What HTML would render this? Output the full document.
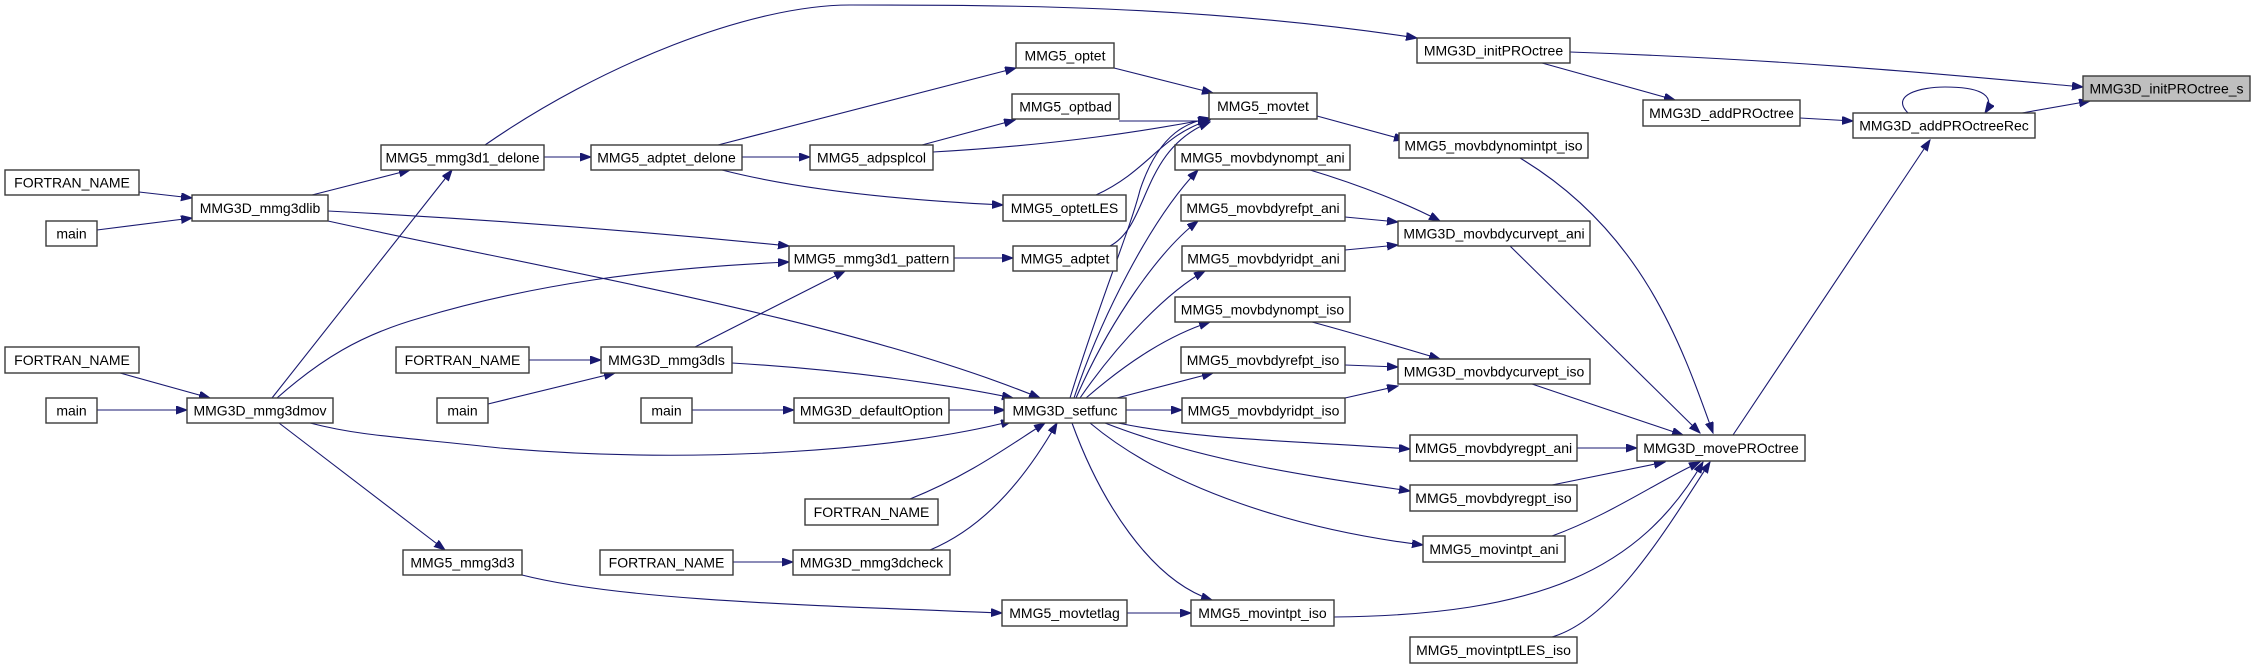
<!DOCTYPE html>
<html><head><meta charset="utf-8">
<style>
html,body{margin:0;padding:0;background:#fff;}
svg{display:block;}
text{font-family:"Liberation Sans",sans-serif;font-size:14px;fill:#000;}
.b{fill:#fff;stroke:#3a3a3a;stroke-width:1.4;}
.e{fill:none;stroke:#191970;stroke-width:1.1;}
</style></head><body>
<svg width="2255" height="669" viewBox="0 0 2255 669" xmlns="http://www.w3.org/2000/svg">
<defs>
<marker id="a" markerWidth="12" markerHeight="9" refX="11" refY="4" orient="auto" markerUnits="userSpaceOnUse">
<path d="M0,0 L11,4 L0,8 z" fill="#191970" stroke="#191970"/>
</marker>
</defs>
<g class="e" marker-end="url(#a)">
<path d="M1570,52 C1800,60 1950,75 2083,87"/>
<path d="M1542,63 L1675,100"/>
<path d="M1800,118 L1853,121"/>
<path d="M2022,113 L2090,101"/>
<path d="M1908,113 C1890,95 1920,87 1945,87 C1975,87 1998,93 1985,113"/>
<path d="M1733,435 L1930,140"/>
<path d="M1520,158 C1640,230 1680,340 1713,433"/>
<path d="M1510,246 L1700,433"/>
<path d="M1532,384 L1683,435"/>
<path d="M1577,448 L1637,448"/>
<path d="M1552,485 L1665,462"/>
<path d="M1552,536 C1610,515 1660,480 1700,462"/>
<path d="M1334,617 C1540,615 1640,570 1703,462"/>
<path d="M1552,637 C1610,620 1660,540 1710,462"/>
<path d="M1317,116 L1405,140"/>
<path d="M1310,170 C1360,185 1410,205 1440,221"/>
<path d="M1345,217 L1398,222"/>
<path d="M1345,250 L1398,245"/>
<path d="M1312,322 C1360,335 1410,350 1440,359"/>
<path d="M1345,365 L1398,367"/>
<path d="M1345,398 L1398,386"/>
<path d="M1074,398 C1100,320 1150,220 1198,170"/>
<path d="M1076,398 C1110,320 1160,250 1198,221"/>
<path d="M1080,398 C1120,340 1170,290 1205,271"/>
<path d="M1086,398 C1130,360 1170,335 1210,322"/>
<path d="M1117,398 L1213,373"/>
<path d="M1126,410 L1182,410"/>
<path d="M1118,423 C1200,440 1300,441 1410,449"/>
<path d="M1105,423 C1200,460 1300,475 1410,491"/>
<path d="M1090,423 C1170,490 1300,530 1423,545"/>
<path d="M1072,423 C1100,500 1150,580 1212,600"/>
<path d="M1070,398 C1100,300 1130,230 1140,190 C1160,130 1190,122 1210,118"/>
<path d="M1096,195 C1150,170 1160,135 1210,120"/>
<path d="M1110,246 C1150,225 1140,150 1210,122"/>
<path d="M1114,68 L1213,93"/>
<path d="M1119,121 L1209,121"/>
<path d="M933,152 C1060,145 1150,130 1209,119"/>
<path d="M922,145 L1015,120"/>
<path d="M718,145 L1016,68"/>
<path d="M742,157 L810,157"/>
<path d="M722,170 C800,190 900,200 1003,205"/>
<path d="M954,258 L1013,258"/>
<path d="M544,157 L591,157"/>
<path d="M485,145 C600,65 750,5 850,5 C1000,5 1200,5 1417,38"/>
<path d="M312,195 L410,170"/>
<path d="M328,211 C500,220 650,232 789,246"/>
<path d="M328,221 C550,270 850,320 1040,398"/>
<path d="M139,192 L192,198"/>
<path d="M97,230 L192,218"/>
<path d="M120,373 L210,398"/>
<path d="M97,410 L187,410"/>
<path d="M272,398 L452,170"/>
<path d="M277,398 C320,360 360,335 420,318 C530,285 650,268 789,262"/>
<path d="M695,347 L845,271"/>
<path d="M310,423 C360,436 400,437 500,448 C700,465 900,450 1012,421"/>
<path d="M279,423 L445,550"/>
<path d="M529,360 L601,360"/>
<path d="M488,404 L615,373"/>
<path d="M732,363 C850,370 950,385 1013,398"/>
<path d="M692,410 L794,410"/>
<path d="M949,410 L1005,410"/>
<path d="M910,499 C970,475 1010,445 1045,423"/>
<path d="M733,562 L793,562"/>
<path d="M930,550 C990,525 1030,470 1057,423"/>
<path d="M522,575 C620,600 800,605 1002,613"/>
<path d="M1127,613 L1191,613"/>
</g>
<g>
<rect class="b" x="1417" y="38" width="153" height="25"/><text x="1493.5" y="55.5" text-anchor="middle">MMG3D_initPROctree</text>
<rect x="2083" y="76" width="167" height="25" fill="#bfbfbf" stroke="#3a3a3a" stroke-width="1.4"/><text x="2166.5" y="93.5" text-anchor="middle">MMG3D_initPROctree_s</text>
<rect class="b" x="1643" y="100" width="157" height="26"/><text x="1721.5" y="118" text-anchor="middle">MMG3D_addPROctree</text>
<rect class="b" x="1853" y="113" width="182" height="25"/><text x="1944" y="130.5" text-anchor="middle">MMG3D_addPROctreeRec</text>
<rect class="b" x="1637" y="435" width="168" height="26"/><text x="1721" y="453" text-anchor="middle">MMG3D_movePROctree</text>
<rect class="b" x="1399" y="133" width="189" height="25"/><text x="1493.5" y="150.5" text-anchor="middle">MMG5_movbdynomintpt_iso</text>
<rect class="b" x="1398" y="221" width="192" height="25"/><text x="1494" y="238.5" text-anchor="middle">MMG3D_movbdycurvept_ani</text>
<rect class="b" x="1398" y="359" width="192" height="25"/><text x="1494" y="376.5" text-anchor="middle">MMG3D_movbdycurvept_iso</text>
<rect class="b" x="1410" y="435" width="167" height="26"/><text x="1493.5" y="453" text-anchor="middle">MMG5_movbdyregpt_ani</text>
<rect class="b" x="1410" y="485" width="167" height="26"/><text x="1493.5" y="503" text-anchor="middle">MMG5_movbdyregpt_iso</text>
<rect class="b" x="1423" y="536" width="142" height="26"/><text x="1494" y="554" text-anchor="middle">MMG5_movintpt_ani</text>
<rect class="b" x="1410" y="637" width="167" height="26"/><text x="1493.5" y="655" text-anchor="middle">MMG5_movintptLES_iso</text>
<rect class="b" x="1209" y="93" width="108" height="26"/><text x="1263" y="111" text-anchor="middle">MMG5_movtet</text>
<rect class="b" x="1016" y="43" width="98" height="25"/><text x="1065" y="60.5" text-anchor="middle">MMG5_optet</text>
<rect class="b" x="1012" y="94" width="107" height="25"/><text x="1065.5" y="111.5" text-anchor="middle">MMG5_optbad</text>
<rect class="b" x="810" y="145" width="123" height="25"/><text x="871.5" y="162.5" text-anchor="middle">MMG5_adpsplcol</text>
<rect class="b" x="1003" y="195" width="123" height="26"/><text x="1064.5" y="213" text-anchor="middle">MMG5_optetLES</text>
<rect class="b" x="789" y="246" width="165" height="25"/><text x="871.5" y="263.5" text-anchor="middle">MMG5_mmg3d1_pattern</text>
<rect class="b" x="1013" y="246" width="104" height="25"/><text x="1065" y="263.5" text-anchor="middle">MMG5_adptet</text>
<rect class="b" x="1175" y="145" width="175" height="25"/><text x="1262.5" y="162.5" text-anchor="middle">MMG5_movbdynompt_ani</text>
<rect class="b" x="1181" y="195" width="164" height="26"/><text x="1263" y="213" text-anchor="middle">MMG5_movbdyrefpt_ani</text>
<rect class="b" x="1182" y="246" width="163" height="25"/><text x="1263.5" y="263.5" text-anchor="middle">MMG5_movbdyridpt_ani</text>
<rect class="b" x="1175" y="297" width="175" height="25"/><text x="1262.5" y="314.5" text-anchor="middle">MMG5_movbdynompt_iso</text>
<rect class="b" x="1181" y="347" width="164" height="26"/><text x="1263" y="365" text-anchor="middle">MMG5_movbdyrefpt_iso</text>
<rect class="b" x="1182" y="398" width="163" height="25"/><text x="1263.5" y="415.5" text-anchor="middle">MMG5_movbdyridpt_iso</text>
<rect class="b" x="1004" y="398" width="122" height="25"/><text x="1065" y="415.5" text-anchor="middle">MMG3D_setfunc</text>
<rect class="b" x="794" y="398" width="155" height="25"/><text x="871.5" y="415.5" text-anchor="middle">MMG3D_defaultOption</text>
<rect class="b" x="805" y="499" width="133" height="26"/><text x="871.5" y="517" text-anchor="middle">FORTRAN_NAME</text>
<rect class="b" x="793" y="550" width="157" height="25"/><text x="871.5" y="567.5" text-anchor="middle">MMG3D_mmg3dcheck</text>
<rect class="b" x="1002" y="600" width="125" height="26"/><text x="1064.5" y="618" text-anchor="middle">MMG5_movtetlag</text>
<rect class="b" x="1191" y="600" width="143" height="26"/><text x="1262.5" y="618" text-anchor="middle">MMG5_movintpt_iso</text>
<rect class="b" x="5" y="170" width="134" height="25"/><text x="72" y="187.5" text-anchor="middle">FORTRAN_NAME</text>
<rect class="b" x="46" y="221" width="51" height="25"/><text x="71.5" y="238.5" text-anchor="middle">main</text>
<rect class="b" x="192" y="195" width="136" height="26"/><text x="260" y="213" text-anchor="middle">MMG3D_mmg3dlib</text>
<rect class="b" x="381" y="145" width="163" height="25"/><text x="462.5" y="162.5" text-anchor="middle">MMG5_mmg3d1_delone</text>
<rect class="b" x="591" y="145" width="151" height="25"/><text x="666.5" y="162.5" text-anchor="middle">MMG5_adptet_delone</text>
<rect class="b" x="5" y="347" width="134" height="26"/><text x="72" y="365" text-anchor="middle">FORTRAN_NAME</text>
<rect class="b" x="46" y="398" width="51" height="25"/><text x="71.5" y="415.5" text-anchor="middle">main</text>
<rect class="b" x="187" y="398" width="146" height="25"/><text x="260" y="415.5" text-anchor="middle">MMG3D_mmg3dmov</text>
<rect class="b" x="396" y="347" width="133" height="26"/><text x="462.5" y="365" text-anchor="middle">FORTRAN_NAME</text>
<rect class="b" x="601" y="347" width="131" height="26"/><text x="666.5" y="365" text-anchor="middle">MMG3D_mmg3dls</text>
<rect class="b" x="437" y="398" width="51" height="25"/><text x="462.5" y="415.5" text-anchor="middle">main</text>
<rect class="b" x="641" y="398" width="51" height="25"/><text x="666.5" y="415.5" text-anchor="middle">main</text>
<rect class="b" x="403" y="550" width="119" height="25"/><text x="462.5" y="567.5" text-anchor="middle">MMG5_mmg3d3</text>
<rect class="b" x="600" y="550" width="133" height="25"/><text x="666.5" y="567.5" text-anchor="middle">FORTRAN_NAME</text>
</g>
</svg>
</body></html>
